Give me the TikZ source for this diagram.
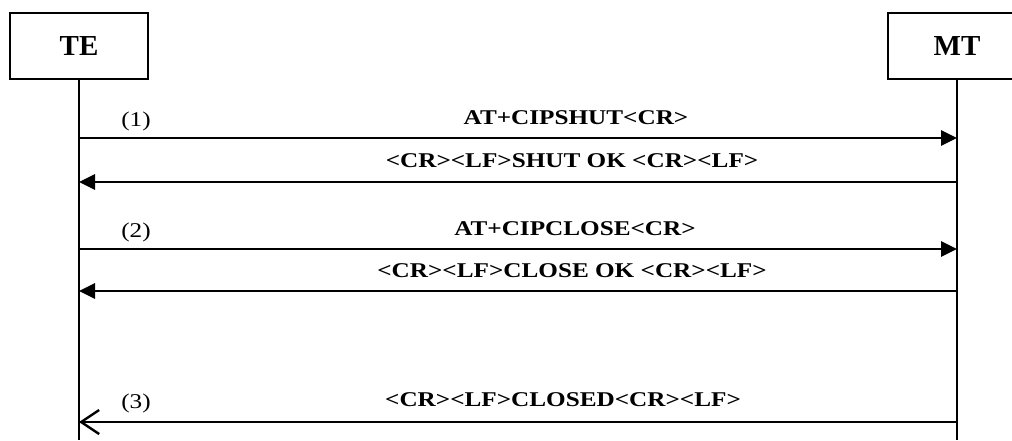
\documentclass[tikz,border=0pt]{standalone}
\usepackage{fontspec}
\setmainfont{Liberation Serif}
\usetikzlibrary{arrows.meta}
\begin{document}
\begin{tikzpicture}[x=1pt,y=-1pt,
  actor/.style={draw,line width=1.8pt,minimum width=138pt,minimum height=66pt,
    font=\fontsize{29}{32}\selectfont\bfseries,inner sep=0pt},
  life/.style={line width=2pt},
  msg/.style={line width=2.8pt,-{Triangle[length=16pt,width=15pt]}},
  barb/.style={line width=2.8pt,-{Straight Barb[length=18pt,width=24pt,line width=2.4pt]}},
  lbl/.style={anchor=base,font=\fontsize{21}{24}\selectfont\bfseries,inner sep=0pt},
  num/.style={anchor=base,font=\fontsize{21}{24}\selectfont,inner sep=0pt}]
\useasboundingbox (0,0) rectangle (1012,440);
\node[actor] (te) at (79,46) {TE};
\node[actor] (mt) at (957,46) {MT};
\coordinate (teend) at (79,440);
\coordinate (mtend) at (957,440);
\draw[life] (te.south) -- (teend);
\draw[life] (mt.south) -- (mtend);
% message points
\coordinate (t1) at (79,138);  \coordinate (m1) at (957,138);
\coordinate (t2) at (79,182);  \coordinate (m2) at (957,182);
\coordinate (t3) at (79,249);  \coordinate (m3) at (957,249);
\coordinate (t4) at (79,291);  \coordinate (m4) at (957,291);
\coordinate (t5) at (79,422);  \coordinate (m5) at (957,422);
\draw[msg] (t1) -- (m1);
\draw[msg] (m2) -- (t2);
\draw[msg] (t3) -- (m3);
\draw[msg] (m4) -- (t4);
\draw[barb] (m5) -- (t5);
% labels
\node[num] (n1) at (136,126) {\scalebox{1.2}[1]{(1)}};
\node[num] (n2) at (136,237) {\scalebox{1.2}[1]{(2)}};
\node[num] (n3) at (136,408) {\scalebox{1.2}[1]{(3)}};
\node[lbl] (l1) at (576,124) {\scalebox{1.2}[1]{AT+CIPSHUT<CR>}};
\node[lbl] (l2) at (572,167) {\scalebox{1.2}[1]{<CR><LF>SHUT OK <CR><LF>}};
\node[lbl] (l3) at (575,235) {\scalebox{1.2}[1]{AT+CIPCLOSE<CR>}};
\node[lbl] (l4) at (572,277) {\scalebox{1.2}[1]{<CR><LF>CLOSE OK <CR><LF>}};
\node[lbl] (l5) at (563,406) {\scalebox{1.2}[1]{<CR><LF>CLOSED<CR><LF>}};
\end{tikzpicture}
\end{document}
